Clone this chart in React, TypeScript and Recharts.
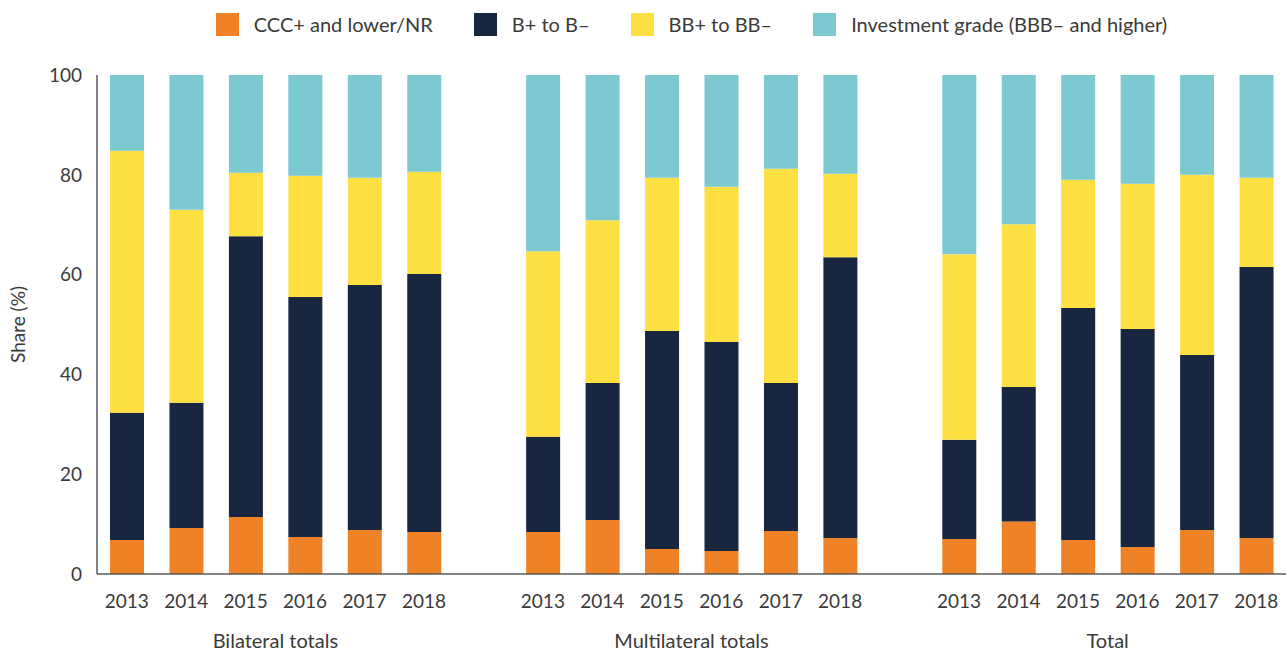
import React from "react"
import { BarChart, Bar, XAxis, YAxis, Legend } from "recharts"

// categories
const GROUPS = ["Bilateral totals", "Multilateral totals", "Total"]
const YEARS = ["2013", "2014", "2015", "2016", "2017", "2018"]

// segment heights (share %), one row per group: bilateral, multilateral, total
const CCC_LOWER = [
  [6.8, 9.2, 11.4, 7.4, 8.8, 8.4],
  [8.4, 10.8, 5.0, 4.6, 8.6, 7.2],
  [7.0, 10.5, 6.8, 5.4, 8.8, 7.2],
]
const B_RANGE = [
  [25.5, 25.1, 56.3, 48.1, 49.1, 51.7],
  [19.1, 27.5, 43.7, 41.9, 29.7, 56.3],
  [19.9, 27.0, 46.5, 43.7, 35.1, 54.3],
]
const BB_RANGE = [
  [52.5, 38.7, 12.7, 24.3, 21.5, 20.5],
  [37.2, 32.6, 30.7, 31.1, 42.9, 16.7],
  [37.2, 32.6, 25.7, 29.1, 36.1, 17.9],
]
const INV_GRADE = [
  [15.2, 27.0, 19.6, 20.2, 20.6, 19.4],
  [35.3, 29.1, 20.6, 22.4, 18.8, 19.8],
  [35.9, 29.9, 21.0, 21.8, 20.0, 20.6],
]

const Y_TICKS = [0, 20, 40, 60, 80, 100]

const SERIES = [
  { key: "ccc", name: "CCC+ and lower/NR", color: "#EF8126" },
  { key: "b", name: "B+ to B\u2013", color: "#19263F" },
  { key: "bb", name: "BB+ to BB\u2013", color: "#FFE043" },
  { key: "ig", name: "Investment grade (BBB\u2013 and higher)", color: "#7CC9D2" },
]

const WIDTH = 1288
const HEIGHT = 653
const Y_AXIS_W = 97
const MARGIN_R = 2
const TEXT = "#3a3a3a"
const AXIS = "#5a5a5a"

type Row = {
  id: string
  year: string
  group: string
  ccc?: number
  b?: number
  bb?: number
  ig?: number
}

// groups separated by one empty slot
const data: Row[] = []
GROUPS.forEach((group, gi) => {
  if (gi > 0) data.push({ id: `gap-${gi}`, year: "", group: "" })
  YEARS.forEach((year, yi) => {
    data.push({
      id: `${gi}-${year}`,
      year,
      group,
      ccc: CCC_LOWER[gi][yi],
      b: B_RANGE[gi][yi],
      bb: BB_RANGE[gi][yi],
      ig: INV_GRADE[gi][yi],
    })
  })
})

const SLOT = (WIDTH - Y_AXIS_W - MARGIN_R) / data.length

const YearTick = (props: any) => {
  const { x, y, payload } = props
  const row = data.find((d) => d.id === payload.value)
  if (!row || !row.year) return null
  return (
    <g>
      <text x={x} y={y + 26} textAnchor="middle" fill={TEXT} fontSize={19}>
        {row.year}
      </text>
      {row.year === "2015" && (
        <text x={x + SLOT / 2} y={y + 66} textAnchor="middle" fill={TEXT} fontSize={20}>
          {row.group}
        </text>
      )}
    </g>
  )
}

const LegendContent = () => (
  <div style={{ display: "flex", justifyContent: "center", gap: 41, fontSize: 20, color: TEXT }}>
    {SERIES.map((s) => (
      <div key={s.key} style={{ display: "flex", alignItems: "center", gap: 15 }}>
        <span style={{ width: 23, height: 23, background: s.color, display: "inline-block" }} />
        <span>{s.name}</span>
      </div>
    ))}
  </div>
)

export default function App() {
  return (
    <div
      style={{
        position: "absolute",
        left: 0,
        top: 0,
        width: WIDTH,
        height: HEIGHT,
        background: "#fff",
        fontFamily: "Lato, 'Open Sans', sans-serif",
      }}
    >
      <BarChart
        width={WIDTH}
        height={HEIGHT}
        data={data}
        margin={{ top: 51, right: MARGIN_R, left: 0, bottom: 0 }}
        barSize={34}
      >
        <Legend
          verticalAlign="top"
          content={<LegendContent />}
          wrapperStyle={{ top: 12, left: Y_AXIS_W, width: WIDTH - Y_AXIS_W - MARGIN_R }}
        />
        <XAxis
          dataKey="id"
          interval={0}
          tickLine={false}
          axisLine={{ stroke: AXIS, strokeWidth: 1.5 }}
          height={79}
          tick={<YearTick />}
        />
        <YAxis
          type="number"
          domain={[0, 100]}
          ticks={Y_TICKS}
          width={Y_AXIS_W}
          tickLine={false}
          tickMargin={9}
          axisLine={{ stroke: AXIS, strokeWidth: 1.5 }}
          tick={{ fill: TEXT, fontSize: 19 }}
          label={{
            value: "Share (%)",
            angle: -90,
            position: "insideLeft",
            offset: 18,
            style: { fill: TEXT, fontSize: 19, textAnchor: "middle" },
          }}
        />
        {SERIES.map((s) => (
          <Bar
            key={s.key}
            dataKey={s.key}
            name={s.name}
            stackId="share"
            fill={s.color}
            isAnimationActive={false}
          />
        ))}
      </BarChart>
    </div>
  )
}
